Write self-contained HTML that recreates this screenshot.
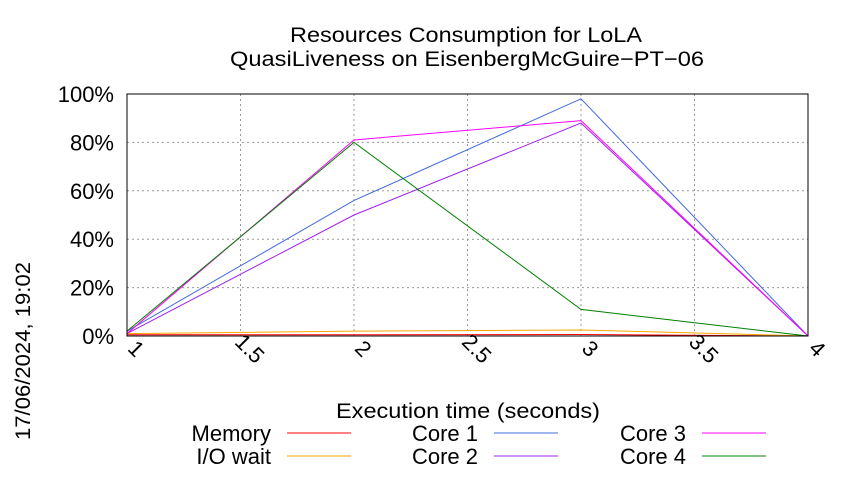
<!DOCTYPE html>
<html><head><meta charset="utf-8"><style>
body{margin:0;background:#fff;font-family:"Liberation Sans",sans-serif}
</style></head><body>
<svg id="c" width="850" height="475" xmlns="http://www.w3.org/2000/svg" font-family="Liberation Sans, sans-serif">
<text x="290" y="42" font-size="21" textLength="352" lengthAdjust="spacingAndGlyphs">Resources Consumption for LoLA</text>
<text x="230" y="66" font-size="21" textLength="474" lengthAdjust="spacingAndGlyphs">QuasiLiveness on EisenbergMcGuire−PT−06</text>
<text transform="translate(30,440) rotate(-90)" font-size="21" textLength="178" lengthAdjust="spacingAndGlyphs">17/06/2024, 19:02</text>
<text x="336" y="418" font-size="21" textLength="264" lengthAdjust="spacingAndGlyphs">Execution time (seconds)</text>
<g id="grid"></g><g id="series"></g><g id="axes"></g><g id="legend"></g>
</svg>
<script>
const xs=[1,2,3,4];
const memory=[0.5,0.5,0.6,0];
const iowait=[1,2,2.5,0];
const core1=[2,56,98,0];
const core2=[1,50,88,0];
const core3=[1,81,89,0];
const core4=[2,80,11,0];
const xTicks=["1","1.5","2","2.5","3","3.5","4"];
const yTicks=["0%","20%","40%","60%","80%","100%"];
const L=127,R=808,T=94,B=336;
const X=v=>L+(v-1)/3*(R-L), Y=v=>B-v/100*(B-T);
const NS="http://www.w3.org/2000/svg";
function mk(t,a,p){const e=document.createElementNS(NS,t);for(const k in a)e.setAttribute(k,a[k]);p.appendChild(e);return e;}
const g=document.getElementById('grid'),ax=document.getElementById('axes'),s=document.getElementById('series'),lg=document.getElementById('legend');
xTicks.forEach((t,i)=>{const x=X(parseFloat(t));
 const l=mk('line',{x1:x,x2:x,y1:T,y2:B,stroke:'#999','stroke-dasharray':'2,3','stroke-width':1},g);
 
 
 const tx=mk('text',{transform:`translate(${x+4},${B+18}) rotate(45)`,'font-size':22,'text-anchor':'middle'},ax);
 tx.textContent=t;
 
 });
yTicks.forEach((t,i)=>{const y=Y(parseFloat(t));
 const l=mk('line',{x1:L,x2:R,y1:y,y2:y,stroke:'#999','stroke-dasharray':'2,3','stroke-width':1},g);
 
 
 const tx=mk('text',{x:L-13,y:y+8,'font-size':22,'text-anchor':'end'},ax);
 tx.textContent=t;
 
 });
const fr=mk('rect',{x:L,y:T,width:R-L,height:B-T,fill:'none',stroke:'#000','stroke-width':1},ax);


const series=[["Memory",memory,"#ff0000"],["I/O wait",iowait,"#ffa500"],["Core 1",core1,"#4169e1"],["Core 2",core2,"#a020f0"],["Core 3",core3,"#ff00ff"],["Core 4",core4,"#008000"]];
series.forEach(([n,d,c],i)=>{
 const p=mk('polyline',{points:d.map((v,j)=>X(xs[j])+','+Y(v)).join(' '),fill:'none',stroke:c,'stroke-width':1},s);
 
 
 const col=Math.floor(i/2),row=i%2;
 const lx=[271,478,686][col],ly=[433,456][row];
 const t=mk('text',{x:lx,y:ly+8,'font-size':22,'text-anchor':'end'},lg);
 t.textContent=n;
 
 
 const ll=mk('line',{x1:lx+16,x2:lx+80,y1:ly,y2:ly,stroke:c,'stroke-width':1},lg);
 
 
});
</script>
</body></html>
